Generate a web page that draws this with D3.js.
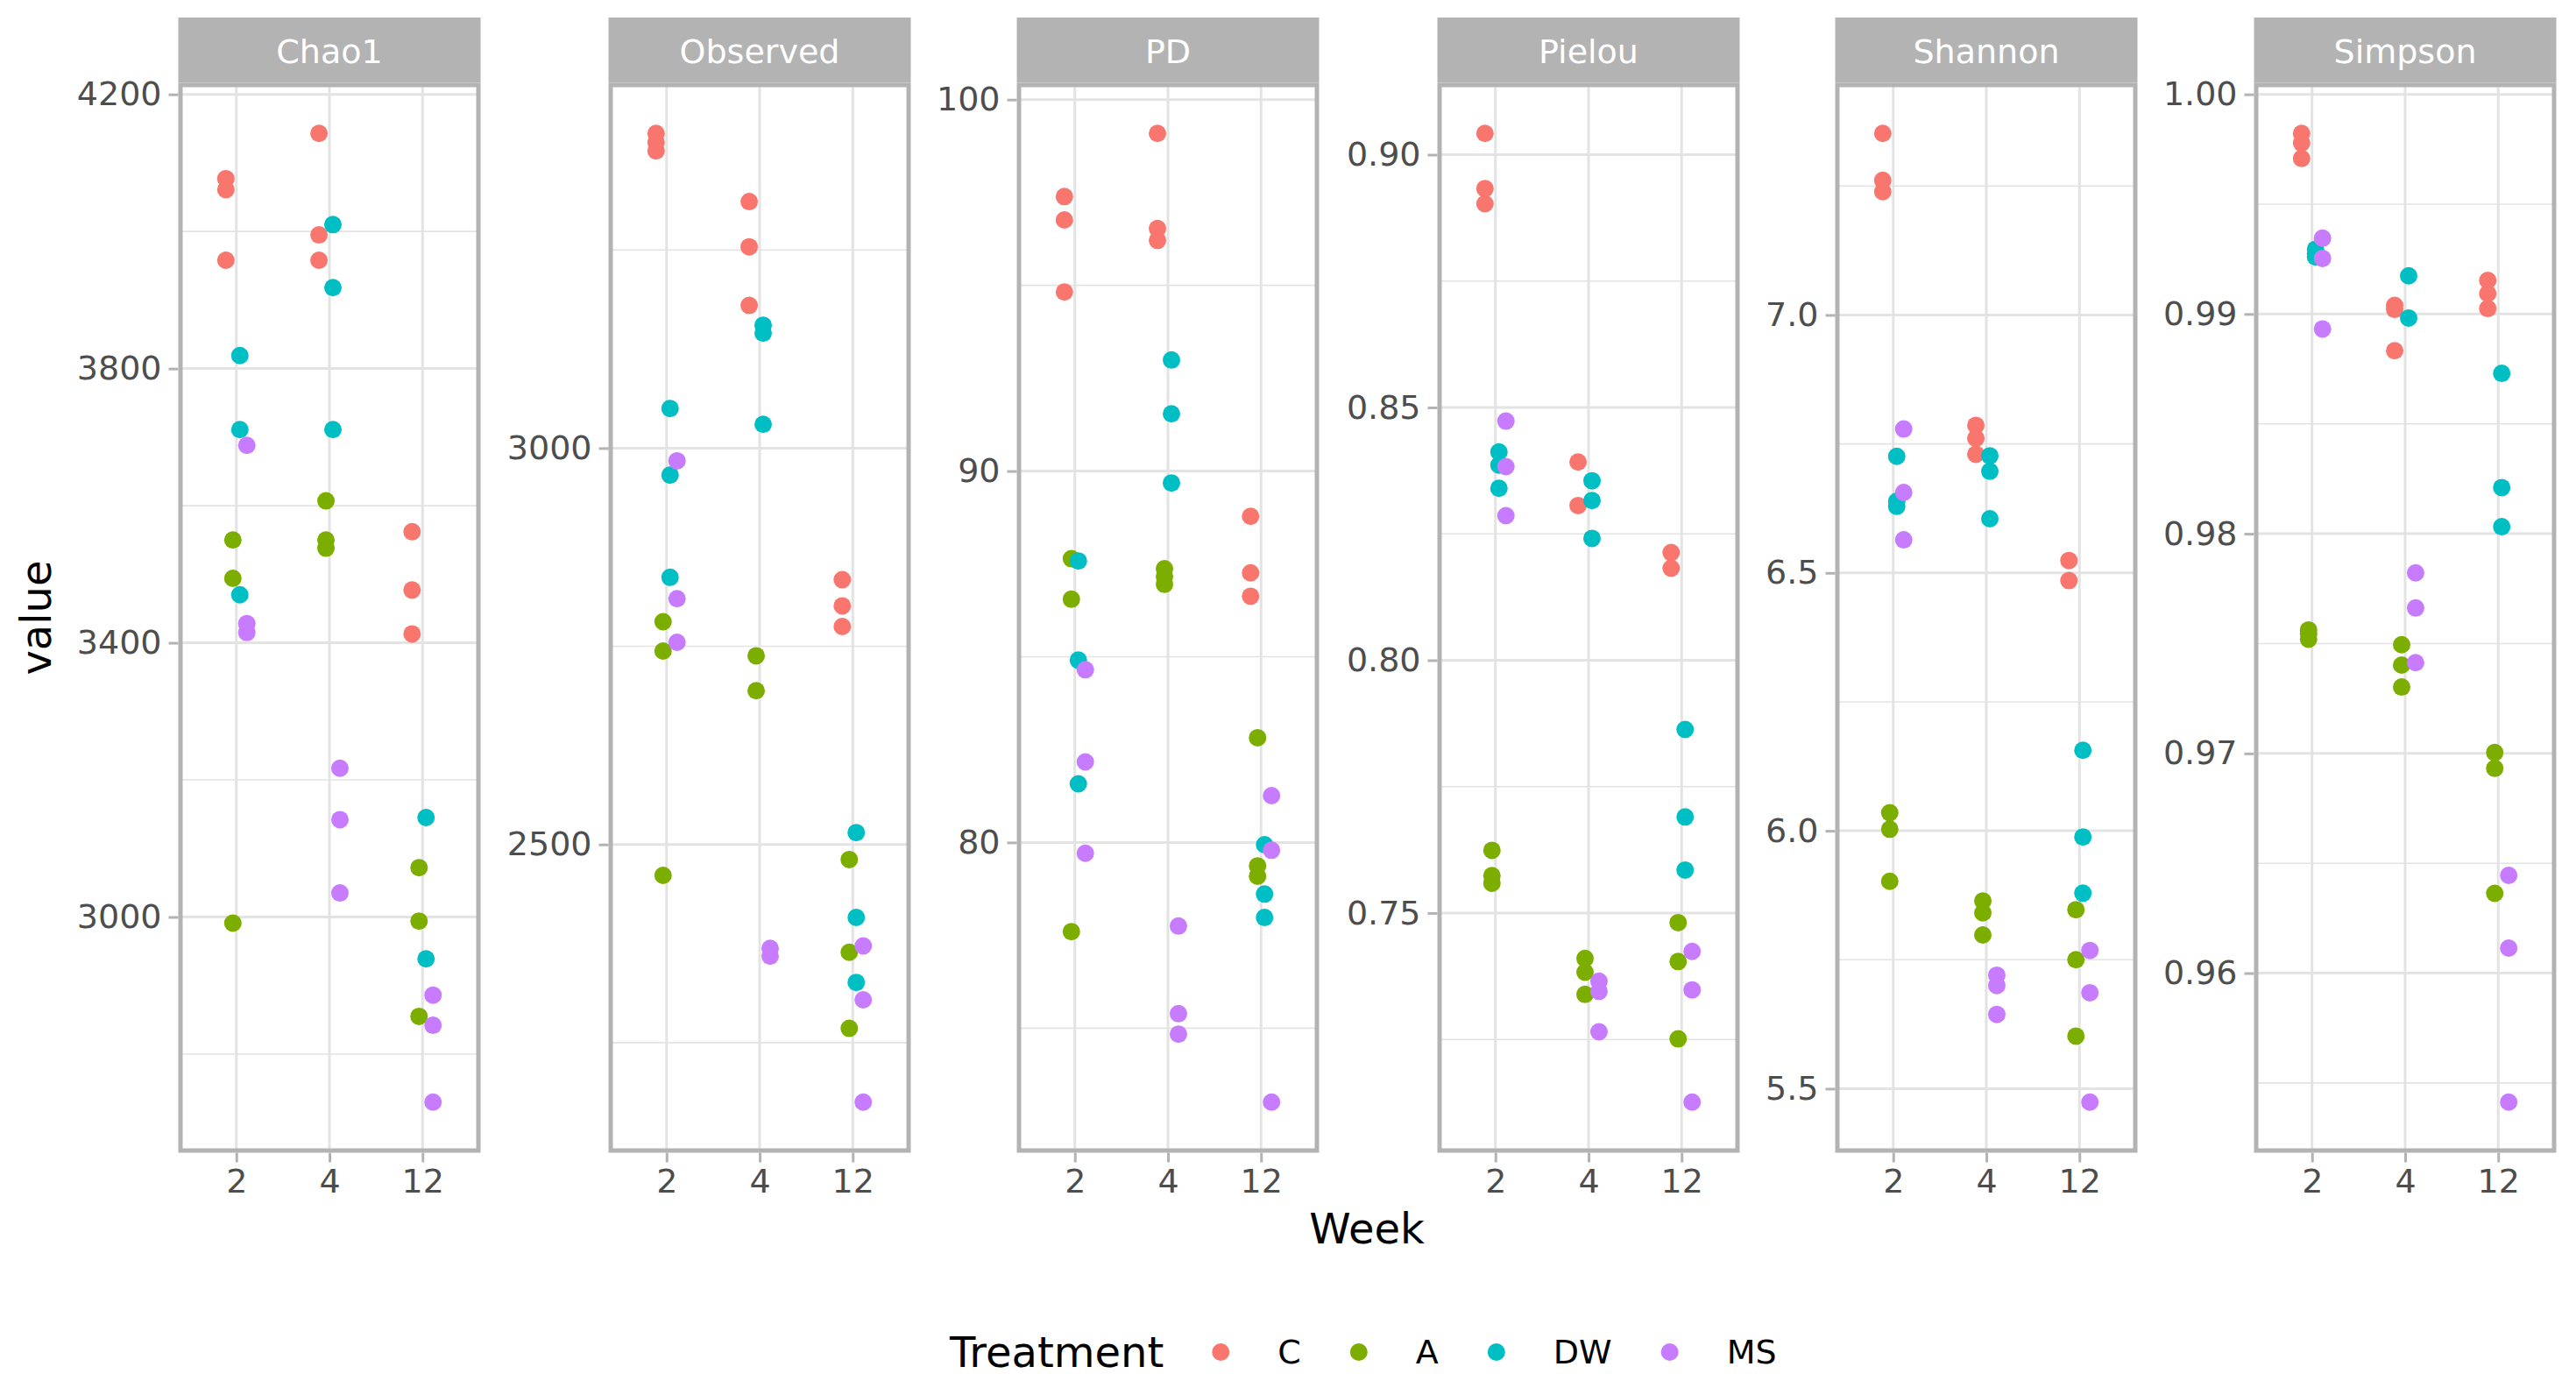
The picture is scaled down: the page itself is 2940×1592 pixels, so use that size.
<!DOCTYPE html>
<html lang="en">
<head>
<meta charset="UTF-8">
<title>Alpha diversity by week</title>
<script src="https://d3js.org/d3.v7.min.js"></script>
<style>
  html, body { margin: 0; padding: 0; background: #fff; }
  svg { display: block; }
  text { font-family: "DejaVu Sans", sans-serif; }
</style>
</head>
<body>
<svg width="2940" height="1592"></svg>
<script>
// ---- data (values per treatment, one inner list per week: 2, 4, 12) ----
const weeks = ["2", "4", "12"];
const treatments = ["C", "A", "DW", "MS"];
const colors = ["#F8766D", "#7CAE00", "#00BFC4", "#C77CFF"];
const metrics = ["Chao1", "Observed", "PD", "Pielou", "Shannon", "Simpson"];

const chao1 = {
  C:  [[4077, 4061, 3958], [4143, 3995, 3958], [3562, 3477, 3413]],
  A:  [[3550, 3494, 2991], [3607, 3550, 3538], [3072, 2994, 2855]],
  DW: [[3819, 3711, 3470], [4010, 3918, 3711], [3145, 2939]],
  MS: [[3688, 3428, 3415], [3217, 3142, 3035], [2886, 2842, 2730]]
};
const observed = {
  C:  [[3397, 3386, 3375], [3311, 3254, 3180], [2834, 2801, 2775]],
  A:  [[2781, 2744, 2461], [2738, 2694], [2481, 2364, 2268]],
  DW: [[3050, 2966, 2837], [3155, 3145, 3030], [2515, 2408, 2326]],
  MS: [[2984, 2810, 2755], [2369, 2359], [2372, 2304, 2175]]
};
const pd = {
  C:  [[97.39, 96.76, 94.82], [99.09, 96.53, 96.21], [88.78, 87.26, 86.63]],
  A:  [[87.64, 86.55, 77.60], [87.37, 87.16, 86.95], [82.82, 79.37, 79.09]],
  DW: [[87.58, 84.91, 81.58], [92.99, 91.54, 89.68], [79.94, 78.61, 77.98]],
  MS: [[84.65, 82.17, 79.71], [77.75, 75.39, 74.84], [81.26, 79.79, 73.01]]
};
const pielou = {
  C:  [[0.9042, 0.8933, 0.8903], [0.8392, 0.8306], [0.8213, 0.8182]],
  A:  [[0.7624, 0.7574, 0.7559], [0.7410, 0.7383, 0.7339], [0.7481, 0.7404, 0.7251]],
  DW: [[0.8412, 0.8386, 0.8340], [0.8355, 0.8316, 0.8241], [0.7863, 0.7690, 0.7585]],
  MS: [[0.8473, 0.8383, 0.8286], [0.7365, 0.7345, 0.7265], [0.7424, 0.7348, 0.7126]]
};
const shannon = {
  C:  [[7.352, 7.261, 7.239], [6.786, 6.761, 6.730], [6.524, 6.485]],
  A:  [[6.035, 6.003, 5.902], [5.864, 5.841, 5.798], [5.847, 5.750, 5.602]],
  DW: [[6.726, 6.639, 6.629], [6.727, 6.697, 6.605], [6.156, 5.988, 5.879]],
  MS: [[6.779, 6.656, 6.564], [5.720, 5.700, 5.644], [5.768, 5.686, 5.474]]
};
const simpson = {
  C:  [[0.99822, 0.99779, 0.99708], [0.99039, 0.99021, 0.98833], [0.99153, 0.99093, 0.99025]],
  A:  [[0.97562, 0.97545, 0.97520], [0.97495, 0.97402, 0.97302], [0.97004, 0.96932, 0.96363]],
  DW: [[0.99295, 0.99274, 0.99260], [0.99174, 0.98982], [0.98730, 0.98210, 0.98032]],
  MS: [[0.99345, 0.99253, 0.98932], [0.97822, 0.97662, 0.97413], [0.96445, 0.96114, 0.95413]]
};

const chao1Ticks = [3000, 3400, 3800, 4200];
const observedTicks = [2500, 3000];
const pdTicks = [80, 90, 100];
const pielouTicks = [0.75, 0.80, 0.85, 0.90];
const shannonTicks = [5.5, 6.0, 6.5, 7.0];
const simpsonTicks = [0.96, 0.97, 0.98, 0.99, 1.00];

const panelData = [chao1, observed, pd, pielou, shannon, simpson];
const panelTicks = [chao1Ticks, observedTicks, pdTicks, pielouTicks, shannonTicks, simpsonTicks];
const panelFormats = ["d", "d", "d", ".2f", ".1f", ".2f"];

// ---- layout ----
const panelLefts = [206, 697, 1163, 1643, 2097, 2575];
const panelW = 340, panelTop = 97, panelBottom = 1313, stripTop = 20;
const tickFont = 38, titleFont = 48;
const grey70 = "#B3B3B3", grid = "#E3E3E3", grey30 = "#4D4D4D";

const svg = d3.select("svg");
const color = d3.scaleOrdinal().domain(treatments).range(colors);

metrics.forEach((name, i) => {
  const data = panelData[i];
  const left = panelLefts[i];

  const rows = [];
  treatments.forEach(t => {
    data[t].forEach((vals, wi) => vals.forEach(v => rows.push({ t, week: weeks[wi], v })));
  });

  const x = d3.scalePoint().domain(weeks).range([left, left + panelW]).padding(0.6);
  const dodge = d3.scaleBand().domain(treatments)
    .range([-0.15 * x.step(), 0.15 * x.step()]);
  const [lo, hi] = d3.extent(rows, d => d.v);
  const pad = (hi - lo) * 0.05;
  const y = d3.scaleLinear().domain([lo - pad, hi + pad]).range([panelBottom, panelTop]);

  const g = svg.append("g");

  // minor grid: midpoints between breaks
  const ticks = panelTicks[i];
  const step = ticks[1] - ticks[0];
  const minor = d3.range(ticks.length + 1).map(k => ticks[0] + (k - 0.5) * step)
    .filter(m => m > y.domain()[0] && m < y.domain()[1]);
  g.selectAll(".minor").data(minor).join("line")
    .attr("x1", left).attr("x2", left + panelW)
    .attr("y1", d => y(d)).attr("y2", d => y(d))
    .attr("stroke", grid).attr("stroke-width", 1.6);
  g.selectAll(".hmaj").data(ticks).join("line")
    .attr("x1", left).attr("x2", left + panelW)
    .attr("y1", d => y(d)).attr("y2", d => y(d))
    .attr("stroke", grid).attr("stroke-width", 3);
  g.selectAll(".vmaj").data(weeks).join("line")
    .attr("x1", d => x(d)).attr("x2", d => x(d))
    .attr("y1", panelTop).attr("y2", panelBottom)
    .attr("stroke", grid).attr("stroke-width", 3);

  g.selectAll("circle").data(rows).join("circle")
    .attr("cx", d => x(d.week) + dodge(d.t) + dodge.bandwidth() / 2)
    .attr("cy", d => y(d.v))
    .attr("r", 10)
    .attr("fill", d => color(d.t));

  g.append("rect")
    .attr("x", left).attr("y", panelTop)
    .attr("width", panelW).attr("height", panelBottom - panelTop)
    .attr("fill", "none").attr("stroke", grey70).attr("stroke-width", 5);

  // strip
  g.append("rect")
    .attr("x", left - 2.5).attr("y", stripTop)
    .attr("width", panelW + 5).attr("height", panelTop - stripTop - 2.5)
    .attr("fill", grey70);
  g.append("text")
    .attr("x", left + panelW / 2).attr("y", (stripTop + panelTop) / 2)
    .attr("text-anchor", "middle").attr("dominant-baseline", "central")
    .attr("fill", "#fff").attr("font-size", tickFont)
    .text(name);

  // axes
  const ya = g.append("g").attr("transform", `translate(${left - 2.5},0)`)
    .call(d3.axisLeft(y).tickValues(ticks).tickFormat(d3.format(panelFormats[i]))
      .tickSize(11).tickPadding(8));
  const xa = g.append("g").attr("transform", `translate(0,${panelBottom + 2.5})`)
    .call(d3.axisBottom(x).tickSize(11).tickPadding(8));
  [ya, xa].forEach(a => {
    a.select(".domain").remove();
    a.selectAll(".tick line").attr("stroke", grey70).attr("stroke-width", 3);
    a.selectAll(".tick text").attr("fill", grey30).attr("font-size", tickFont)
      .attr("font-family", "DejaVu Sans");
  });
});

// axis titles
svg.append("text")
  .attr("x", 1560).attr("y", 1402)
  .attr("text-anchor", "middle").attr("dominant-baseline", "central")
  .attr("font-size", titleFont).text("Week");
svg.append("text")
  .attr("transform", "translate(41,705) rotate(-90)")
  .attr("text-anchor", "middle").attr("dominant-baseline", "central")
  .attr("font-size", titleFont).text("value");

// legend
const legend = svg.append("g").attr("transform", "translate(1084,1543)");
const title = legend.append("text")
  .attr("dominant-baseline", "central").attr("font-size", titleFont).text("Treatment");
let cursor = title.node().getComputedTextLength() + 65;
treatments.forEach(t => {
  legend.append("circle").attr("cx", cursor).attr("cy", 0).attr("r", 10).attr("fill", color(t));
  const lbl = legend.append("text").attr("x", cursor + 65)
    .attr("dominant-baseline", "central").attr("font-size", tickFont).text(t);
  cursor += 65 + lbl.node().getComputedTextLength() + 66;
});
</script>
</body>
</html>
